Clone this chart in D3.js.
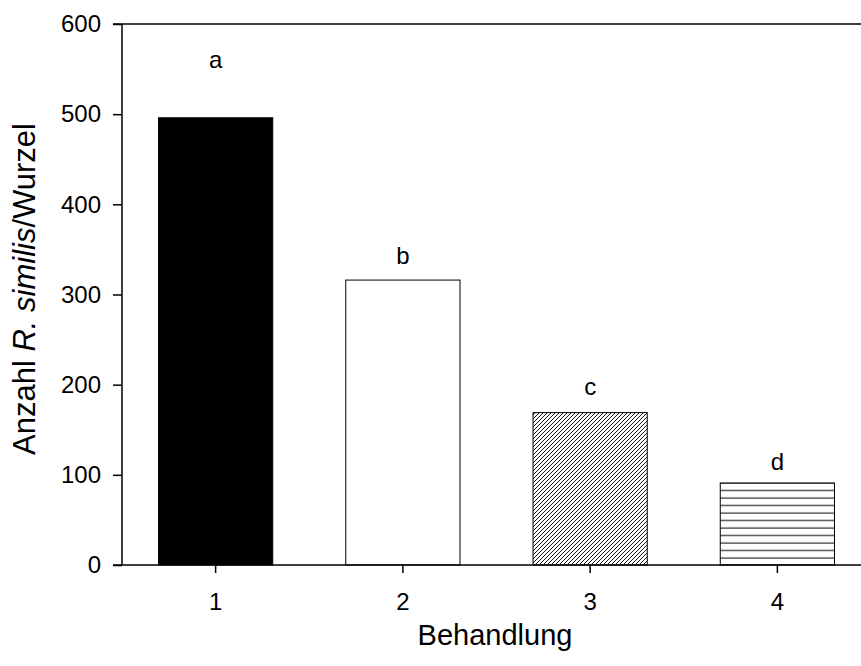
<!DOCTYPE html>
<html>
<head>
<meta charset="utf-8">
<script src="https://cdn.jsdelivr.net/npm/d3@7"></script>
<style>
  html, body { margin: 0; padding: 0; background: #fff; }
  svg { display: block; }
  text { font-family: "Liberation Sans", Arial, sans-serif; fill: #000; }
</style>
</head>
<body>
<svg id="chart" width="861" height="666"></svg>
<script>
const categories = ["1", "2", "3", "4"];
const values = [496, 316, 169, 91];
const letters = ["a", "b", "c", "d"];
const letterPos = [551, 334, 189, 105];
const yTicks = [0, 100, 200, 300, 400, 500, 600];
const fills = ["solid", "empty", "diag", "horiz"];

const svg = d3.select("#chart");
const W = 861, H = 666;
const x0 = 122, x1 = 871, yTop = 24, yBot = 565;

const x = d3.scaleBand().domain(categories).range([x0, x1])
  .paddingInner(0.39).paddingOuter(0.195);
const y = d3.scaleLinear().domain([0, 600]).range([yBot, yTop]);

const defs = svg.append("defs");
const pd = defs.append("pattern").attr("id", "diag")
  .attr("patternUnits", "userSpaceOnUse").attr("width", 4).attr("height", 4);
pd.append("rect").attr("width", 4).attr("height", 4).attr("fill", "#fff");
pd.append("path").attr("d", "M-1,1 L1,-1 M0,4 L4,0 M3,5 L5,3")
  .attr("stroke", "#000").attr("stroke-width", 0.9);
const ph = defs.append("pattern").attr("id", "horiz")
  .attr("patternUnits", "userSpaceOnUse").attr("width", 10).attr("height", 7.5);
ph.append("rect").attr("width", 10).attr("height", 7.5).attr("fill", "#fff");
ph.append("line").attr("x1", 0).attr("x2", 10).attr("y1", 3).attr("y2", 3)
  .attr("stroke", "#000").attr("stroke-width", 1);

const fillOf = f => f === "solid" ? "#000" : f === "empty" ? "#fff" : `url(#${f})`;

// bars
svg.append("g").selectAll("rect").data(categories).join("rect")
  .attr("x", (d) => x(d))
  .attr("width", x.bandwidth())
  .attr("y", (d, i) => y(values[i]))
  .attr("height", (d, i) => y(0) - y(values[i]))
  .attr("fill", (d, i) => fillOf(fills[i]))
  .attr("stroke", "#000").attr("stroke-width", 1);

// letters
svg.append("g").selectAll("text").data(categories).join("text")
  .attr("x", d => x(d) + x.bandwidth() / 2)
  .attr("y", (d, i) => y(letterPos[i]))
  .attr("text-anchor", "middle")
  .style("font-size", "24px")
  .text((d, i) => letters[i]);

// y axis
const ya = svg.append("g").attr("transform", `translate(${x0},0)`)
  .call(d3.axisLeft(y).tickValues(yTicks).tickSize(9).tickPadding(12).tickSizeOuter(0));
ya.select(".domain").remove();
ya.selectAll("text").style("font-size", "24px").style("font-family", "Liberation Sans, Arial, sans-serif");
ya.selectAll(".tick line").attr("stroke-width", 1.5);

// x axis
const xa = svg.append("g").attr("transform", `translate(0,${yBot})`)
  .call(d3.axisBottom(x).tickSize(8).tickPadding(20).tickSizeOuter(0));
xa.select(".domain").remove();
xa.selectAll("text").style("font-size", "24px").style("font-family", "Liberation Sans, Arial, sans-serif");
xa.selectAll(".tick line").attr("stroke-width", 1.5);

// frame lines
svg.append("line").attr("x1", x0).attr("x2", x0).attr("y1", yTop).attr("y2", yBot)
  .attr("stroke", "#000").attr("stroke-width", 1.5);
svg.append("line").attr("x1", x0 - 9).attr("x2", W + 20).attr("y1", yBot).attr("y2", yBot)
  .attr("stroke", "#000").attr("stroke-width", 1.5);
svg.append("line").attr("x1", x0 - 9).attr("x2", W + 20).attr("y1", yTop).attr("y2", yTop)
  .attr("stroke", "#000").attr("stroke-width", 1.5);

// titles
svg.append("text").attr("x", 495).attr("y", 645)
  .attr("text-anchor", "middle").style("font-size", "29px").text("Behandlung");

const yt = svg.append("text")
  .attr("transform", `translate(35,289) rotate(-90)`)
  .attr("text-anchor", "middle").style("font-size", "31px");
yt.append("tspan").text("Anzahl ");
yt.append("tspan").style("font-style", "italic").text("R. similis");
yt.append("tspan").text("/Wurzel");
</script>
</body>
</html>
